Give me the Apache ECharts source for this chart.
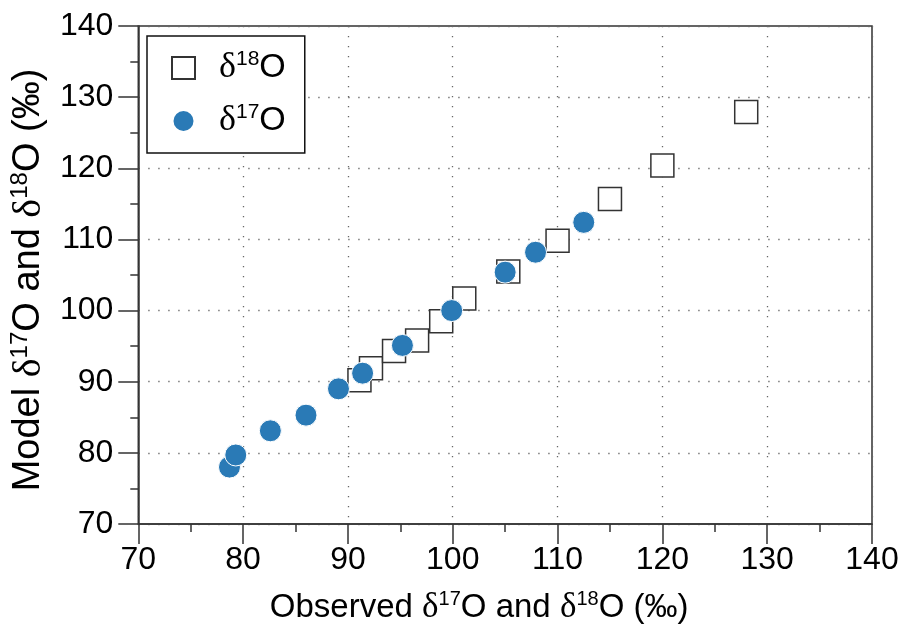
<!DOCTYPE html>
<html>
<head>
<meta charset="utf-8">
<script src="https://cdn.jsdelivr.net/npm/echarts@6/dist/echarts.min.js"></script>
<style>
html,body{margin:0;padding:0;background:#fff;}
#chart{width:909px;height:630px;}
</style>
</head>
<body>
<div id="chart"></div>
<script>
// Tick values
const xTicks = [70, 80, 90, 100, 110, 120, 130, 140];
const yTicks = [70, 80, 90, 100, 110, 120, 130, 140];

// δ18O : observed (x) vs model (y)
const obs18 = [91.1, 92.2, 94.4, 96.6, 98.9, 101.1, 105.3, 110.0, 115.0, 120.0, 128.0];
const mod18 = [90.2, 91.9, 94.3, 95.8, 98.5, 101.7, 105.5, 109.8, 115.7, 120.4, 127.9];

// δ17O : observed (x) vs model (y)
const obs17 = [78.7, 79.3, 82.6, 86.0, 89.1, 91.4, 95.2, 99.9, 105.0, 107.9, 112.5];
const mod17 = [78.0, 79.7, 83.1, 85.3, 89.0, 91.2, 95.1, 100.0, 105.4, 108.2, 112.4];

const seriesNames = ['δ18O', 'δ17O'];
const legendRich = {'δ18O': '{d|δ}{s|18}{n|O}', 'δ17O': '{d|δ}{s|17}{n|O}'};
const xTitle = '{n|Observed }{d|δ}{s|17}{n|O and }{d|δ}{s|18}{n|O (‰)}';
const yTitle = '{n|Model }{d|δ}{s|17}{n|O and }{d|δ}{s|18}{n|O (‰)}';

const FONT = 'Liberation Sans';
const FS = 32;
function richStyles(fs) {
  return {
    n: {fontFamily: FONT, fontSize: fs, color: '#000', lineHeight: fs + 4},
    d: {fontFamily: 'Liberation Serif', fontSize: fs + 2, color: '#000', lineHeight: fs + 4},
    s: {fontFamily: FONT, fontSize: Math.round(fs * 0.62), color: '#000', verticalAlign: 'top', lineHeight: Math.round(fs * 0.7)}
  };
}

const chart = echarts.init(document.getElementById('chart'), null, {renderer: 'canvas'});

function zip(a, b) { return a.map((v, i) => [v, b[i]]); }

const axisCommon = {
  type: 'value',
  interval: 10,
  axisLine: {show: true, onZero: false, lineStyle: {color: '#333', width: 1.5}},
  axisTick: {show: true, inside: false, length: 20, lineStyle: {color: '#333', width: 1.5}},
  minorTick: {show: true, splitNumber: 2, length: 8, lineStyle: {color: '#333', width: 1.5}},
  splitLine: {show: true, lineStyle: {color: '#666', width: 1.3, type: [1.3, 8.7]}},
  minorSplitLine: {show: false},
  axisLabel: {fontFamily: FONT, fontSize: FS, color: '#000'}
};

chart.setOption({
  animation: false,
  backgroundColor: '#fff',
  grid: {
    left: 138, right: 37, top: 26, bottom: 106,
    show: true, borderColor: '#333', borderWidth: 1.5, backgroundColor: 'transparent'
  },
  xAxis: Object.assign({}, axisCommon, {
    min: xTicks[0], max: xTicks[xTicks.length - 1],
    axisLabel: Object.assign({}, axisCommon.axisLabel, {margin: 20}),
    name: xTitle,
    nameLocation: 'middle',
    nameGap: 65,
    nameTextStyle: {rich: richStyles(33), padding: [0, 52, 0, 0]}
  }),
  yAxis: Object.assign({}, axisCommon, {
    min: yTicks[0], max: yTicks[yTicks.length - 1],
    axisLabel: Object.assign({}, axisCommon.axisLabel, {margin: 25}),
    name: yTitle,
    nameLocation: 'middle',
    nameRotate: 90,
    nameGap: 84,
    nameTextStyle: {rich: richStyles(38), padding: [0, 10, 0, 0]}
  }),
  legend: {
    orient: 'vertical',
    left: 147, top: 36,
    padding: [13, 19, 14, 24],
    itemGap: 16,
    itemWidth: 23, itemHeight: 22,
    backgroundColor: '#fff',
    borderColor: '#111', borderWidth: 1.5,
    borderRadius: 0,
    data: [
      {name: seriesNames[0], icon: 'rect'},
      {name: seriesNames[1], icon: 'circle'}
    ],
    formatter: function (name) { return legendRich[name]; },
    textStyle: {padding: [0, 0, 0, 19], rich: richStyles(34)}
  },
  series: [
    {
      name: seriesNames[0],
      type: 'scatter',
      symbol: 'rect',
      symbolSize: 23,
      data: zip(obs18, mod18),
      itemStyle: {color: '#fff', borderColor: '#333', borderWidth: 1.5, opacity: 1},
      z: 2
    },
    {
      name: seriesNames[1],
      type: 'scatter',
      symbol: 'circle',
      symbolSize: 22,
      data: zip(obs17, mod17),
      itemStyle: {color: '#2a7ab6', borderColor: '#fff', borderWidth: 1, opacity: 1},
      z: 3
    }
  ]
});
</script>
</body>
</html>
